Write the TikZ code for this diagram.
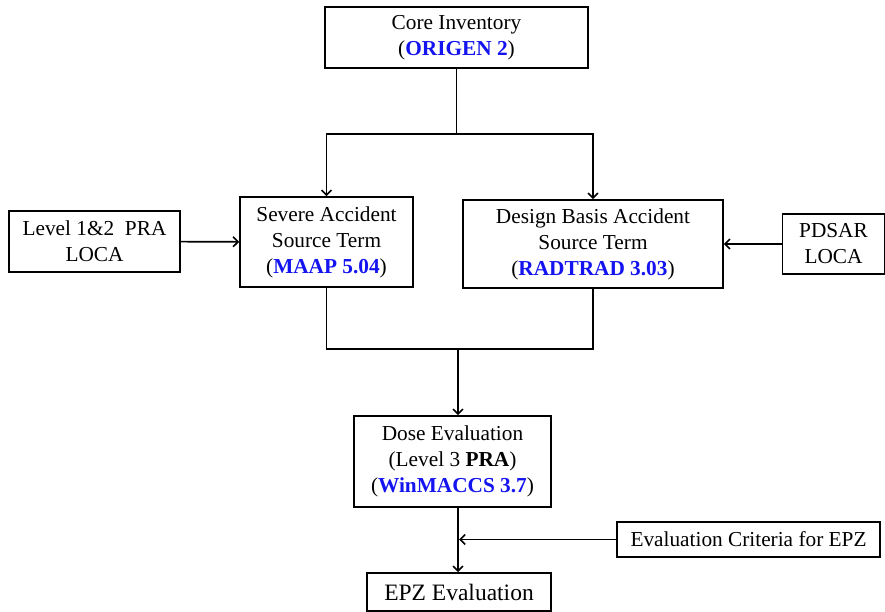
\documentclass[tikz,border=0pt]{standalone}
\usepackage{fontspec}
\setmainfont{Liberation Serif}
\usetikzlibrary{arrows.meta}
\definecolor{codeblue}{RGB}{20,20,240}
\newcommand{\prog}[1]{\textcolor{codeblue}{\textbf{#1}}}

\begin{document}
\begin{tikzpicture}[x=1pt,y=-1pt,
    box/.style={draw, line width=1.6pt, align=center, inner sep=0pt, font=\fontsize{21.3}{26}\selectfont},
    arr/.style={line width=1.6pt, -{Straight Barb[length=5pt,width=10pt]}}]
    \useasboundingbox (0,0) rectangle (885,612);
    % boxes
    \node[box, minimum width=263, minimum height=61] (core) at (456.5,37.5) {Core Inventory\\(\prog{ORIGEN 2})};
    \node[box, minimum width=173, minimum height=90] (severe) at (326.5,242) {Severe Accident\\Source Term\\(\prog{MAAP 5.04})};
    \node[box, minimum width=260, minimum height=88] (design) at (593,244) {Design Basis Accident\\Source Term\\(\prog{RADTRAD 3.03})};
    \node[box, minimum width=171, minimum height=61] (level) at (94.5,241.5) {Level 1\&2~~PRA\\LOCA};
    \node[box, minimum width=102, minimum height=60] (pdsar) at (833.5,244) {PDSAR\\LOCA};
    \node[box, minimum width=197, minimum height=91] (dose) at (452.5,461.5) {Dose Evaluation\\(Level 3 \textbf{PRA})\\(\prog{WinMACCS 3.7})};
    \node[box, minimum width=263, minimum height=35] (crit) at (748.5,539.5) {Evaluation Criteria for EPZ};
    \node[box, minimum width=184, minimum height=38, font=\fontsize{23.5}{28}\selectfont] (epz) at (459,592) {EPZ Evaluation};
    % connectors
    \coordinate (split) at (456.5,134);
    \coordinate (join) at (458,349);
    \draw[line width=1.6pt] (core) -- (split);
    \draw[arr] (split) -| (severe); % to severe accident
    \draw[arr] (split) -| (design); % to design basis
    \draw[arr] (level) -- (severe);
    \draw[arr] (pdsar) -- (design);
    \draw[line width=1.6pt] (severe) |- (join);
    \draw[line width=1.6pt] (design) |- (join);
    \draw[arr] (join) -- (join |- dose.north);
    \draw[arr] (join |- dose.south) -- (join |- epz.north);
    \draw[arr] (crit) -- ([xshift=1pt]crit -| join); % criteria
\end{tikzpicture}
\end{document}
